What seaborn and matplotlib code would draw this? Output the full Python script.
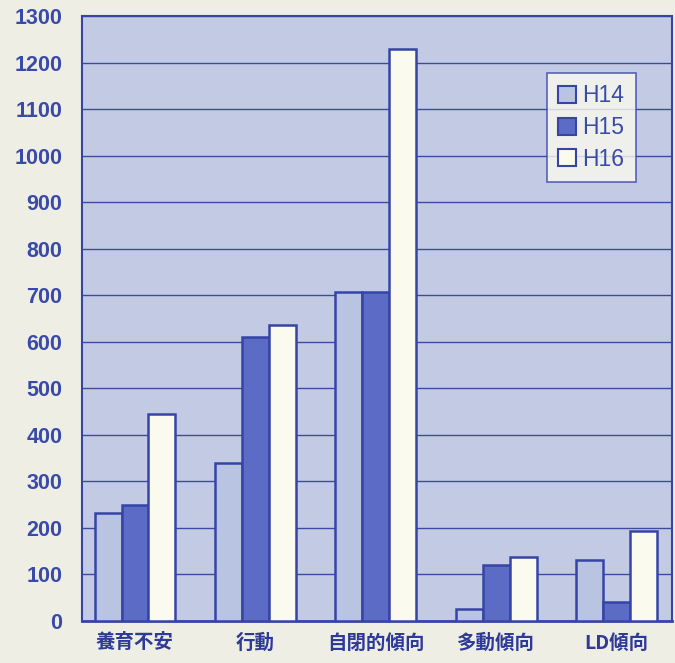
import matplotlib
matplotlib.use("Agg")
import matplotlib.pyplot as plt
import seaborn as sns
import pandas as pd
from matplotlib.patches import Patch
from matplotlib.ticker import FixedLocator

categories = ["養育不安", "行動", "自閉的傾向", "多動傾向", "LD傾向"]
series_names = ["H14", "H15", "H16"]
h14 = [233, 340, 708, 26, 131]
h15 = [250, 610, 708, 121, 40]
h16 = [444, 636, 1230, 137, 193]
yticks = list(range(0, 1301, 100))

rows = []
for name, vals in zip(series_names, [h14, h15, h16]):
    for c, v in zip(categories, vals):
        rows.append({"category": c, "year": name, "value": v})
df = pd.DataFrame(rows)

sns.set_theme(style="white")
plt.rcParams["font.family"] = ["Liberation Sans", "Noto Sans CJK JP", "DejaVu Sans"]

fig_bg = "#eeeee4"
ax_bg = "#c3cbe4"
edge = "#3644a6"
text_c = "#3a4aa8"
palette = {"H14": "#b9c3e2", "H15": "#5c6cc6", "H16": "#fbfaee"}

fig = plt.figure(figsize=(6.75, 6.63), dpi=100, facecolor=fig_bg)
ax = fig.add_axes([82/675, (663-621)/663, (672-82)/675, (621-16)/663])
ax.set_facecolor(ax_bg)

sns.barplot(data=df, x="category", y="value", hue="year", palette=palette,
            order=categories, hue_order=series_names, width=0.67,
            edgecolor=edge, linewidth=1.8, saturation=1, ax=ax, legend=False, zorder=3)

ax.set_ylim(0, 1300)
ax.set_xlim(-0.44, 4.46)
ax.set_yticks(yticks)
ax.set_yticklabels([str(t) for t in yticks], fontsize=15.5, fontweight="bold",
                   color=text_c, family=["Liberation Sans", "DejaVu Sans"])
ax.tick_params(axis="y", length=0, pad=14)
ax.set_xticks(range(len(categories)))
ax.set_xticklabels(categories, fontsize=14, fontweight="bold", color="#2e3a98",
                   family=["Noto Sans CJK JP", "DejaVu Sans"])
ax.tick_params(axis="x", which="major", length=0, pad=9)
ax.xaxis.set_minor_locator(FixedLocator([i + 0.5 for i in range(len(categories) - 1)]))
ax.tick_params(axis="x", which="minor", direction="in", length=5, color=edge, width=1.2)
ax.set_xlabel("")
ax.set_ylabel("")

ax.yaxis.grid(True, color="#3d4aa0", linewidth=1.0, zorder=1)
ax.set_axisbelow(True)
for s in ax.spines.values():
    s.set_color(edge)
    s.set_linewidth(1.5)
ax.spines["bottom"].set_linewidth(2)

handles = [Patch(facecolor=palette[n], edgecolor=edge, linewidth=1.5, label=n) for n in series_names]
leg = ax.legend(handles=handles, loc="upper right", bbox_to_anchor=((636-82)/590, (621-73)/605),
                frameon=True, fancybox=False, fontsize=16.5, handlelength=0.75, handleheight=0.75,
                handletextpad=0.3, labelspacing=0.38, borderpad=0.5, borderaxespad=0)
leg.get_frame().set_facecolor("#fbfaee")
leg.get_frame().set_edgecolor(edge)
leg.get_frame().set_linewidth(1.2)
for t in leg.get_texts():
    t.set_color(text_c)

fig.savefig("out.png", dpi=100, facecolor=fig_bg)
